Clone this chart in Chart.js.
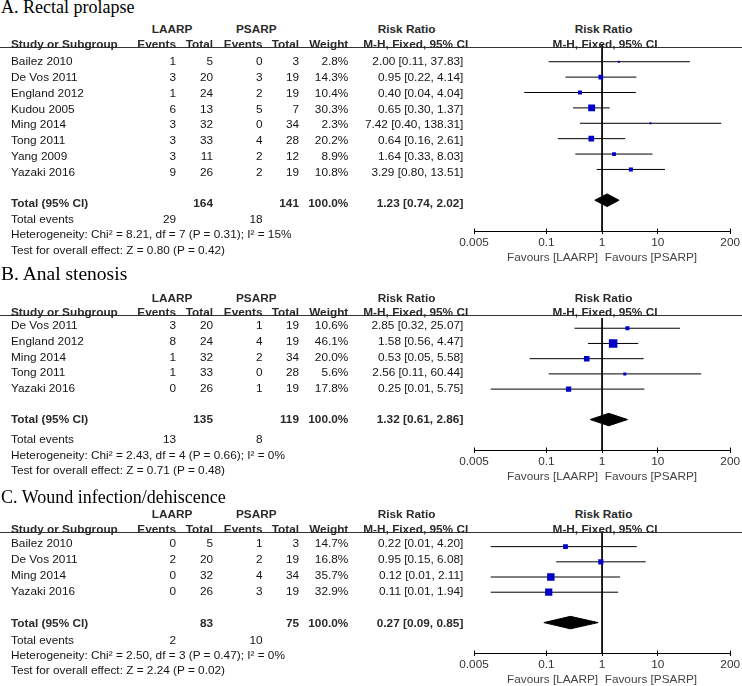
<!DOCTYPE html>
<html>
<head>
<meta charset="utf-8">
<script src="https://cdn.jsdelivr.net/npm/chart.js@4.4.1/dist/chart.umd.min.js"></script>
<style>
  body { margin: 0; background: #fff; }
  #page { position: relative; width: 742px; height: 686px; overflow: hidden;
          font-family: 'Liberation Sans', Arial, sans-serif; font-size: 11.8px; color: #151515; }
  .t { position: absolute; white-space: nowrap; line-height: 14px; height: 14px; z-index: 2; }
  .b { font-weight: bold; color: #2a2a2a; }
  .title { position: absolute; left: 1px; white-space: nowrap; line-height: 20px; color: #000;
           font-family: 'Liberation Serif', 'Times New Roman', serif; z-index: 2; }
  .rule { position: absolute; left: 0; width: 742px; height: 1px; background: #333; z-index: 2; }
  canvas { position: absolute; left: 0; z-index: 1; }
</style>
</head>
<body>
<div id="page"></div>
<script>
// axis ticks shared by the three plots
const tickValues = [0.005, 0.1, 1, 10, 200];
const tickLabels = ['0.005', '0.1', '1', '10', '200'];
const groups = ['LAARP', 'PSARP'];

// A. Rectal prolapse
const studiesA = ['Bailez 2010', 'De Vos 2011', 'England 2012', 'Kudou 2005', 'Ming 2014', 'Tong 2011', 'Yang 2009', 'Yazaki 2016'];
const laarpEventsA = [1, 3, 1, 6, 3, 3, 3, 9];
const laarpTotalA = [5, 20, 24, 13, 32, 33, 11, 26];
const psarpEventsA = [0, 3, 2, 5, 0, 4, 2, 2];
const psarpTotalA = [3, 19, 19, 7, 34, 28, 12, 19];
const weightA = [2.8, 14.3, 10.4, 30.3, 2.3, 20.2, 8.9, 10.8];
const rrA = [2.00, 0.95, 0.40, 0.65, 7.42, 0.64, 1.64, 3.29];
const lowA = [0.11, 0.22, 0.04, 0.30, 0.40, 0.16, 0.33, 0.80];
const highA = [37.83, 4.14, 4.04, 1.37, 138.31, 2.61, 8.03, 13.51];
const pooledA = [1.23, 0.74, 2.02];
const statsA = [8.21, 7, 0.31, 15, 0.80, 0.42]; // chi2, df, P, I2, Z, P

// B. Anal stenosis
const studiesB = ['De Vos 2011', 'England 2012', 'Ming 2014', 'Tong 2011', 'Yazaki 2016'];
const laarpEventsB = [3, 8, 1, 1, 0];
const laarpTotalB = [20, 24, 32, 33, 26];
const psarpEventsB = [1, 4, 2, 0, 1];
const psarpTotalB = [19, 19, 34, 28, 19];
const weightB = [10.6, 46.1, 20.0, 5.6, 17.8];
const rrB = [2.85, 1.58, 0.53, 2.56, 0.25];
const lowB = [0.32, 0.56, 0.05, 0.11, 0.01];
const highB = [25.07, 4.47, 5.58, 60.44, 5.75];
const pooledB = [1.32, 0.61, 2.86];
const statsB = [2.43, 4, 0.66, 0, 0.71, 0.48];

// C. Wound infection/dehiscence
const studiesC = ['Bailez 2010', 'De Vos 2011', 'Ming 2014', 'Yazaki 2016'];
const laarpEventsC = [0, 2, 0, 0];
const laarpTotalC = [5, 20, 32, 26];
const psarpEventsC = [1, 2, 4, 3];
const psarpTotalC = [3, 19, 34, 19];
const weightC = [14.7, 16.8, 35.7, 32.9];
const rrC = [0.22, 0.95, 0.12, 0.11];
const lowC = [0.01, 0.15, 0.01, 0.01];
const highC = [4.20, 6.08, 2.11, 1.94];
const pooledC = [0.27, 0.09, 0.85];
const statsC = [2.50, 3, 0.47, 0, 2.24, 0.02];

const titles = ['A. Rectal prolapse', 'B. Anal stenosis', 'C. Wound infection/dehiscence'];

// ---- layout (pixel positions of each panel) ----
const layouts = [
  { title: 13.5, titleSize: 18, head1: 28.5, head2: 43.5, rule: 47, row0: 60.7, step: 15.9,
    total: 202.5, events: 218.5, het: 234, test: 249.5, lineTop: 40, mark0: 57.3, axis: 230.5 },
  { title: 280.5, titleSize: 19.5, head1: 297.7, head2: 312.3, rule: 315, row0: 325, step: 15.75,
    total: 419, events: 438.5, het: 455, test: 470, lineTop: 312, mark0: 322.7, axis: 449.5 },
  { title: 503, titleSize: 18, head1: 514.3, head2: 529.3, rule: 532.7, row0: 543.3, step: 15.9,
    total: 623.3, events: 640, het: 655, test: 670, lineTop: 526, mark0: 542, axis: 652.7 }
];
const col = { study: 11, ev1: 176, tot1: 213, ev2: 262.5, tot2: 299, weight: 348.3, rr: 463.3 };
const plotLeft = 474, plotRight = 731, plotMid = 603.5;
const AXIS_H = 34;
const FONT = "'Liberation Sans', Arial, sans-serif";

const panels = [
  { studies: studiesA, e1: laarpEventsA, n1: laarpTotalA, e2: psarpEventsA, n2: psarpTotalA,
    weight: weightA, rr: rrA, low: lowA, high: highA, pooled: pooledA, stats: statsA },
  { studies: studiesB, e1: laarpEventsB, n1: laarpTotalB, e2: psarpEventsB, n2: psarpTotalB,
    weight: weightB, rr: rrB, low: lowB, high: highB, pooled: pooledB, stats: statsB },
  { studies: studiesC, e1: laarpEventsC, n1: laarpTotalC, e2: psarpEventsC, n2: psarpTotalC,
    weight: weightC, rr: rrC, low: lowC, high: highC, pooled: pooledC, stats: statsC }
];

const page = document.getElementById('page');
const sum = a => a.reduce((s, v) => s + v, 0);
const ci = (est, lo, hi) => est.toFixed(2) + ' [' + lo.toFixed(2) + ', ' + hi.toFixed(2) + ']';

function put(txt, x, y, align, bold) {
  const d = document.createElement('div');
  d.className = 't' + (bold ? ' b' : '');
  d.textContent = txt;
  d.style.top = (y - 6.9) + 'px';
  if (align === 'r') d.style.right = (742 - x) + 'px';
  else if (align === 'c') { d.style.left = x + 'px'; d.style.transform = 'translateX(-50%)'; }
  else d.style.left = x + 'px';
  page.appendChild(d);
}

function drawTable(p, L, title) {
  const t = document.createElement('div');
  t.className = 'title';
  t.style.fontSize = L.titleSize + 'px';
  t.style.top = (L.title - (10 + 0.3375 * L.titleSize)) + 'px';
  t.textContent = title;
  page.appendChild(t);

  const r = document.createElement('div');
  r.className = 'rule';
  r.style.top = (L.rule - 0.5) + 'px';
  page.appendChild(r);

  put(groups[0], 151.7, L.head1, 'l', true);
  put(groups[1], 236, L.head1, 'l', true);
  put('Risk Ratio', 377.7, L.head1, 'l', true);
  put('Risk Ratio', plotMid, L.head1, 'c', true);
  put('Study or Subgroup', col.study, L.head2, 'l', true);
  put('Events', col.ev1, L.head2, 'r', true);
  put('Total', col.tot1, L.head2, 'r', true);
  put('Events', col.ev2, L.head2, 'r', true);
  put('Total', col.tot2, L.head2, 'r', true);
  put('Weight', col.weight, L.head2, 'r', true);
  put('M-H, Fixed, 95% CI', 363.3, L.head2, 'l', true);
  put('M-H, Fixed, 95% CI', plotMid + 1.5, L.head2, 'c', true);

  p.studies.forEach((s, i) => {
    const y = L.row0 + i * L.step;
    put(s, col.study, y, 'l');
    put(String(p.e1[i]), col.ev1, y, 'r');
    put(String(p.n1[i]), col.tot1, y, 'r');
    put(String(p.e2[i]), col.ev2, y, 'r');
    put(String(p.n2[i]), col.tot2, y, 'r');
    put(p.weight[i].toFixed(1) + '%', col.weight, y, 'r');
    put(ci(p.rr[i], p.low[i], p.high[i]), col.rr, y, 'r');
  });

  put('Total (95% CI)', col.study, L.total, 'l', true);
  put(String(sum(p.n1)), col.tot1, L.total, 'r', true);
  put(String(sum(p.n2)), col.tot2, L.total, 'r', true);
  put('100.0%', col.weight, L.total, 'r', true);
  put(ci(p.pooled[0], p.pooled[1], p.pooled[2]), col.rr, L.total, 'r', true);

  put('Total events', col.study, L.events, 'l');
  put(String(sum(p.e1)), col.ev1, L.events, 'r');
  put(String(sum(p.e2)), col.ev2, L.events, 'r');

  const s = p.stats;
  put('Heterogeneity: Chi\u00b2 = ' + s[0].toFixed(2) + ', df = ' + s[1] + ' (P = ' + s[2].toFixed(2) +
      '); I\u00b2 = ' + s[3] + '%', col.study, L.het, 'l');
  put('Test for overall effect: Z = ' + s[4].toFixed(2) + ' (P = ' + s[5].toFixed(2) + ')',
      col.study, L.test, 'l');
}

// small upward tick halves above the axis line
const upTicks = {
  id: 'upTicks',
  afterDraw(chart) {
    const x = chart.scales.x, ctx = chart.ctx;
    const yb = Math.round(x.top) + 0.5;
    ctx.save();
    ctx.strokeStyle = '#000';
    ctx.lineWidth = 1;
    ctx.beginPath();
    tickValues.forEach(v => {
      const px = Math.round(x.getPixelForValue(v) - 0.5) + 0.5;
      ctx.moveTo(px, yb - 3);
      ctx.lineTo(px, yb);
    });
    ctx.stroke();
    ctx.restore();
  }
};

function drawPlot(p, L) {
  const n = p.studies.length;
  const top = Math.round(L.lineTop), axis = Math.round(L.axis);
  const rowH = (axis - L.mark0) / (n + 3);
  const yMin = -(L.mark0 - top) / rowH;
  const yMax = n + 3;
  const yTot = n + 1;
  const dh = 6.5 / rowH;

  const cv = document.createElement('canvas');
  cv.width = 742;
  cv.height = axis - top + AXIS_H;
  cv.style.top = top + 'px';
  page.appendChild(cv);

  const datasets = [
    {
      type: 'scatter',
      data: p.rr.map((v, i) => ({ x: v, y: i })),
      pointStyle: 'rect',
      pointRadius: p.weight.map(w => 1.25 * Math.sqrt(w) / Math.SQRT2),
      pointHoverRadius: p.weight.map(w => 1.25 * Math.sqrt(w) / Math.SQRT2),
      backgroundColor: '#0000c8',
      borderWidth: 0
    },
    {
      type: 'line',
      data: [{ x: 1, y: yMin }, { x: 1, y: yMax }],
      borderColor: '#000', borderWidth: 1, pointRadius: 0
    }
  ];
  p.low.forEach((lo, i) => {
    datasets.push({
      type: 'line',
      data: [{ x: lo, y: i }, { x: p.high[i], y: i }],
      borderColor: '#000', borderWidth: 1, pointRadius: 0
    });
  });
  const [est, lo, hi] = p.pooled;
  datasets.push({
    type: 'line',
    data: [{ x: lo, y: yTot }, { x: est, y: yTot - dh }, { x: hi, y: yTot }, { x: est, y: yTot + dh }, { x: lo, y: yTot }],
    fill: 'shape', backgroundColor: '#000', borderColor: '#000', borderWidth: 1, pointRadius: 0
  });

  new Chart(cv, {
    type: 'scatter',
    data: { datasets: datasets },
    plugins: [upTicks],
    options: {
      responsive: false,
      animation: false,
      devicePixelRatio: 1,
      events: [],
      layout: { padding: { left: plotLeft, right: 742 - plotRight, top: 0, bottom: 0 } },
      plugins: { legend: { display: false }, tooltip: { enabled: false } },
      scales: {
        x: {
          type: 'logarithmic',
          position: 'bottom',
          min: tickValues[0],
          max: tickValues[tickValues.length - 1],
          bounds: 'data',
          afterBuildTicks: ax => { ax.ticks = tickValues.map(v => ({ value: v })); },
          afterFit: ax => { ax.height = AXIS_H; },
          grid: { display: true, drawOnChartArea: false, drawTicks: true, tickLength: 3, color: '#000' },
          border: { display: true, color: '#000', width: 1 },
          ticks: {
            padding: 2, color: '#333', maxRotation: 0, autoSkip: false,
            font: { family: FONT, size: 11.8 },
            callback: (v, i) => tickLabels[i]
          },
          title: {
            display: true,
            text: 'Favours [' + groups[0] + ']  Favours [' + groups[1] + ']',
            color: '#444',
            font: { family: FONT, size: 11.8 },
            padding: { top: 0, bottom: 0 }
          }
        },
        y: { type: 'linear', display: false, reverse: true, min: yMin, max: yMax }
      }
    }
  });
}

panels.forEach((p, k) => {
  drawPlot(p, layouts[k]);
  drawTable(p, layouts[k], titles[k]);
});
</script>
</body>
</html>
